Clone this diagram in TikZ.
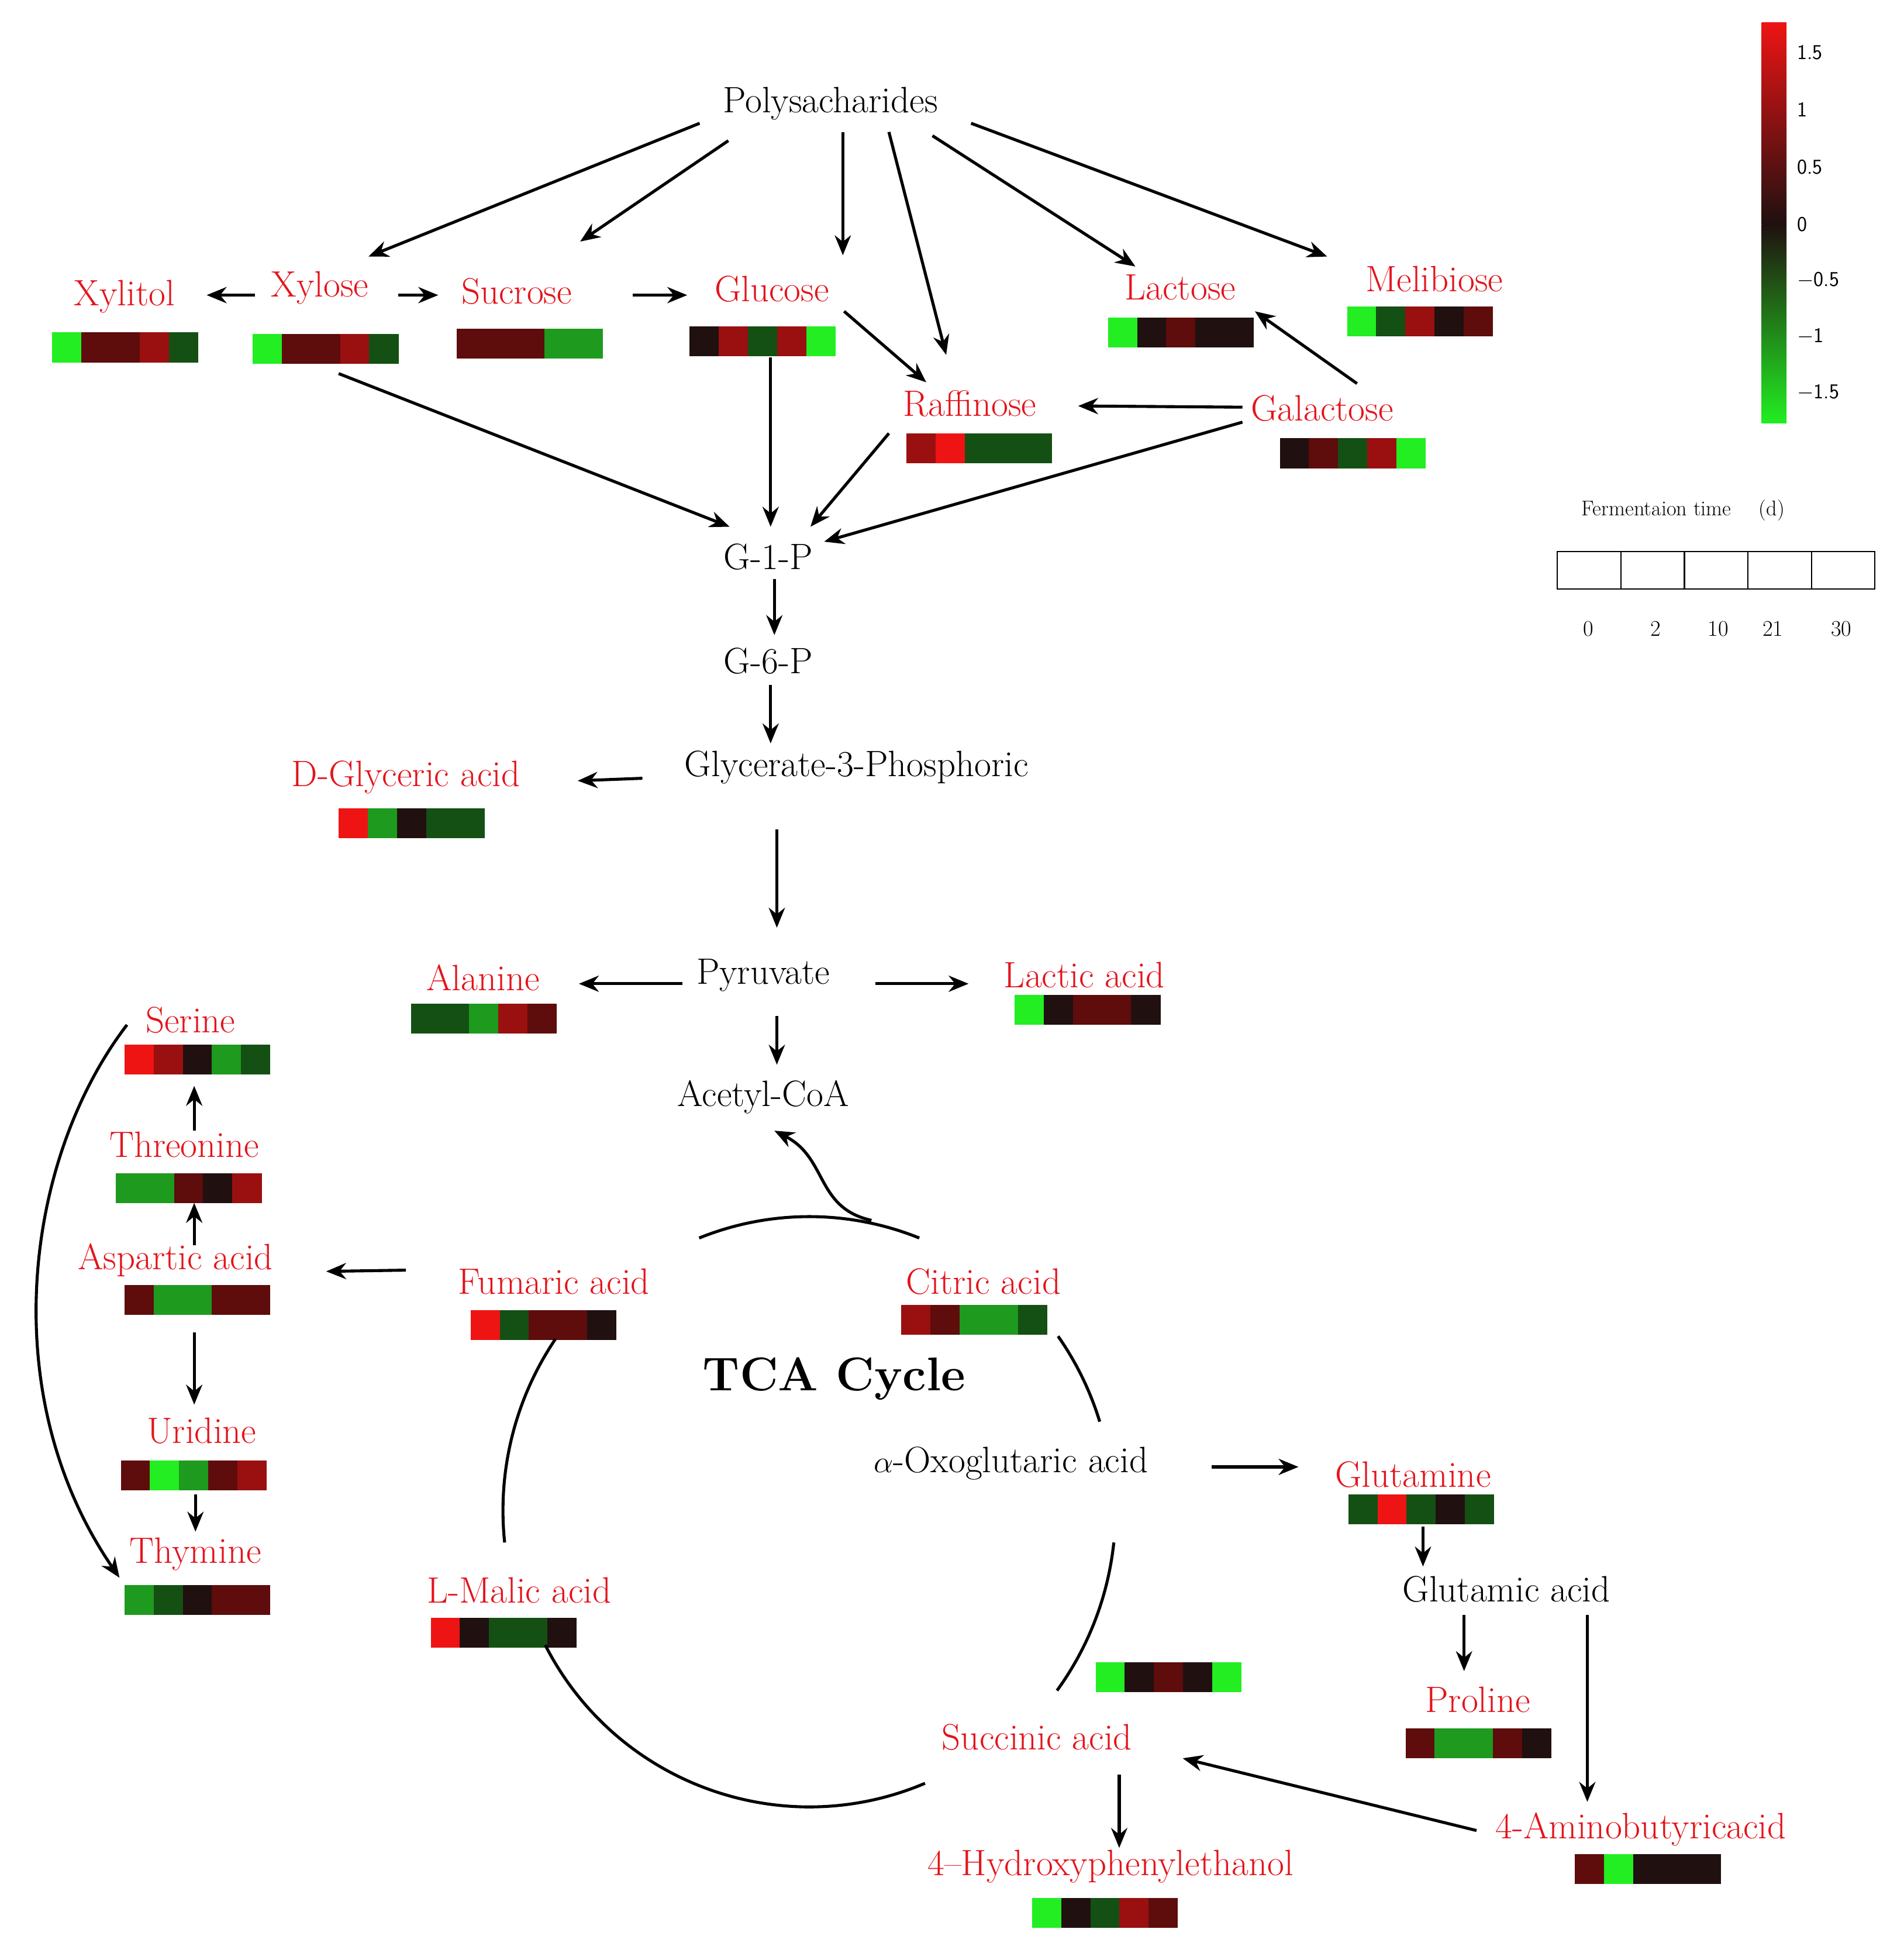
\documentclass[tikz,border=0pt]{standalone}
\usetikzlibrary{arrows.meta}
\definecolor{tr}{HTML}{E3141C}
\definecolor{GA}{HTML}{22EE22}
\definecolor{GB}{HTML}{1E9A1E}
\definecolor{GC}{HTML}{145014}
\definecolor{KK}{HTML}{201010}
\definecolor{RA}{HTML}{5E0C0C}
\definecolor{RB}{HTML}{9A1010}
\definecolor{RC}{HTML}{EE1414}
\newcommand\hmap[3]{\foreach \c [count=\i from 0] in {#3} {\fill[\c] ({#1+\i*23.4},#2) rectangle ++(23.6,24);}}
\begin{document}
\begin{tikzpicture}[x=1pt,y=-1pt,
 lab/.style={font=\fontsize{29.5}{32}\selectfont,inner sep=0pt},
 rl/.style={lab,text=tr},
 ar/.style={line width=2.4pt,-{Stealth[length=16pt,width=13pt]}},
 ln/.style={line width=2.4pt}]
\useasboundingbox (0,0) rectangle (1529,1574);
% labels
\node[lab] (poly) at (667,83) {Polysacharides};
\node[rl] (xylitol) at (100,238) {Xylitol};
\node[rl] (xylose) at (257,231) {Xylose};
\node[rl] (sucrose) at (415,234) {Sucrose};
\node[rl] (glucose) at (620,232) {Glucose};
\node[rl] (lactose) at (948,231) {Lactose};
\node[rl] (melib) at (1152,224) {Melibiose};
\node[rl] (raff) at (779,324) {Raffinose};
\node[rl] (galac) at (1062,328) {Galactose};
\node[lab] (g1p) at (617,447) {G-1-P};
\node[lab] (g6p) at (617,531) {G-6-P};
\node[lab] (g3p) at (688,616) {Glycerate-3-Phosphoric};
\node[rl] (dgly) at (326,624) {D-Glyceric acid};
\node[lab] (pyr) at (613,783) {Pyruvate};
\node[rl] (ala) at (388,785) {Alanine};
\node[rl] (lac) at (871,783) {Lactic acid};
\node[lab] (acoa) at (613,881) {Acetyl-CoA};
\node[rl] (ser) at (153,819) {Serine};
\node[rl] (thr) at (148,919) {Threonine};
\node[rl] (asp) at (141,1012) {Aspartic acid};
\node[rl] (uri) at (162,1149) {Uridine};
\node[rl] (thy) at (157,1248) {Thymine};
\node[rl] (fum) at (445,1029) {Fumaric acid};
\node[rl] (cit) at (790,1029) {Citric acid};
\node[lab,font=\fontsize{38}{40}\selectfont\bfseries] (tca) at (670,1107) {TCA Cycle};
\node[lab] (oxo) at (812,1175) {$\alpha$-Oxoglutaric acid};
\node[rl] (gln) at (1135,1184) {Glutamine};
\node[lab] (glu) at (1210,1276) {Glutamic acid};
\node[rl] (pro) at (1187,1365) {Proline};
\node[rl] (mal) at (417,1277) {L-Malic acid};
\node[rl] (suc) at (833,1395) {Succinic acid};
\node[rl] (gaba) at (1318,1469) {4-Aminobutyricacid};
\node[rl] (hpe) at (892,1499) {4--Hydroxyphenylethanol};
% heatmaps
\hmap{42}{267}{GA,RA,RA,RB,GC}
\hmap{203}{268}{GA,RA,RA,RB,GC}
\hmap{367}{264}{RA,RA,RA,GB,GB}
\hmap{554}{262}{KK,RB,GC,RB,GA}
\hmap{890}{255}{GA,KK,RA,KK,KK}
\hmap{1082}{246}{GA,GC,RB,KK,RA}
\hmap{728}{348}{RB,RC,GC,GC,GC}
\hmap{1028}{352}{KK,RA,GC,RB,GA}
\hmap{272}{649}{RC,GB,KK,GC,GC}
\hmap{330}{806}{GC,GC,GB,RB,RA}
\hmap{815}{799}{GA,KK,RA,RA,KK}
\hmap{100}{839}{RC,RB,KK,GB,GC}
\hmap{93}{942}{GB,GB,RA,KK,RB}
\hmap{100}{1032}{RA,GB,GB,RA,RA}
\hmap{97}{1173}{RA,GA,GB,RA,RB}
\hmap{100}{1273}{GB,GC,KK,RA,RA}
\hmap{378}{1052}{RC,GC,RA,RA,KK}
\hmap{724}{1048}{RB,RA,GB,GB,GC}
\hmap{346}{1299}{RC,KK,GC,GC,KK}
\hmap{880}{1335}{GA,KK,RA,KK,GA}
\hmap{1083}{1200}{GC,RC,GC,KK,GC}
\hmap{1129}{1388}{RA,GB,GB,RA,KK}
\hmap{1265}{1489}{RA,GA,KK,KK,KK}
\hmap{829}{1524}{GA,KK,GC,RB,RA}
% arrows
\draw[ar] (562,99) -- (296,206);
\draw[ar] (585,113) -- (466,194);
\draw[ar] (677,106) -- (677,205);
\draw[ar] (714,106) -- (760,285);
\draw[ar] (749,109) -- (912,214);
\draw[ar] (780,99) -- (1066,206);
\draw[ar] (205,237) -- (166,237);
\draw[ar] (320,237) -- (352,237);
\draw[ar] (508,237) -- (552,237);
\draw[ar] (678,250) -- (744,307);
\draw[ar] (619,287) -- (619,423);
\draw[ar] (272,300) -- (586,423);
\draw[ar] (714,348) -- (651,423);
\draw[ar] (998,339) -- (662,435);
\draw[ar] (998,327) -- (866,326);
\draw[ar] (1090,308) -- (1008,250);
\draw[ar] (622,465) -- (622,510);
\draw[ar] (619,550) -- (619,597);
\draw[ar] (516,625) -- (464,627);
\draw[ar] (624,666) -- (624,745);
\draw[ar] (548,790) -- (465,790);
\draw[ar] (703,790) -- (778,790);
\draw[ar] (624,816) -- (624,855);
\draw[ar] (700,980) .. controls (655,970) and (665,930) .. (622,908);
% TCA circle
\draw[ln] ([shift={(68:236pt)}]650,1213) arc (68:112:236pt);
\draw[ln] ([shift={(35:244pt)}]650,1213) arc (35:17:244pt);
\draw[ln] ([shift={(-6:246pt)}]650,1213) arc (-6:-36:246pt);
\draw[ln] ([shift={(-67:238pt)}]650,1213) arc (-67:-153:238pt);
\draw[ln] ([shift={(-174:246pt)}]650,1213) arc (-174:-214:246pt);
% left side
\draw[ar] (102,823) .. controls (20,930) and (-5,1120) .. (96,1267);
\draw[ar] (156,908) -- (156,872);
\draw[ar] (156,1000) -- (156,966);
\draw[ar] (156,1070) -- (156,1128);
\draw[ar] (157,1200) -- (157,1230);
\draw[ar] (326,1020) -- (262,1021);
% right side
\draw[ar] (973,1178) -- (1043,1178);
\draw[ar] (1143,1226) -- (1143,1258);
\draw[ar] (1176,1297) -- (1176,1342);
\draw[ar] (1275,1297) -- (1275,1447);
\draw[ar] (1186,1470) -- (950,1412);
\draw[ar] (899,1425) -- (899,1484);
% colour bar
\shade[top color=RC,bottom color=KK] (1415,18) rectangle (1435,180);
\shade[top color=KK,bottom color=GA] (1415,180) rectangle (1435,340);
\foreach \v/\y in {1.5/42,1/88,0.5/134,0/180,$-$0.5/225,$-$1/270,$-$1.5/315}
  \node[anchor=west,font=\fontsize{17}{18}\selectfont\sffamily] (cb\y) at (1440,\y) {\v};
% legend
\node[font=\fontsize{17}{18}\selectfont] (ft) at (1352,410) {Fermentaion time \quad(d)};
\draw[line width=1pt] (1251,443) rectangle (1506,473);
\foreach \x in {1302,1353,1404,1455} \draw[line width=1pt] (\x,443) -- (\x,473);
\foreach \t/\x in {0/1276,2/1330,10/1380,21/1424,30/1479}
  \node[font=\fontsize{18}{18}\selectfont] (d\t) at (\x,505) {\t};
\end{tikzpicture}
\end{document}
